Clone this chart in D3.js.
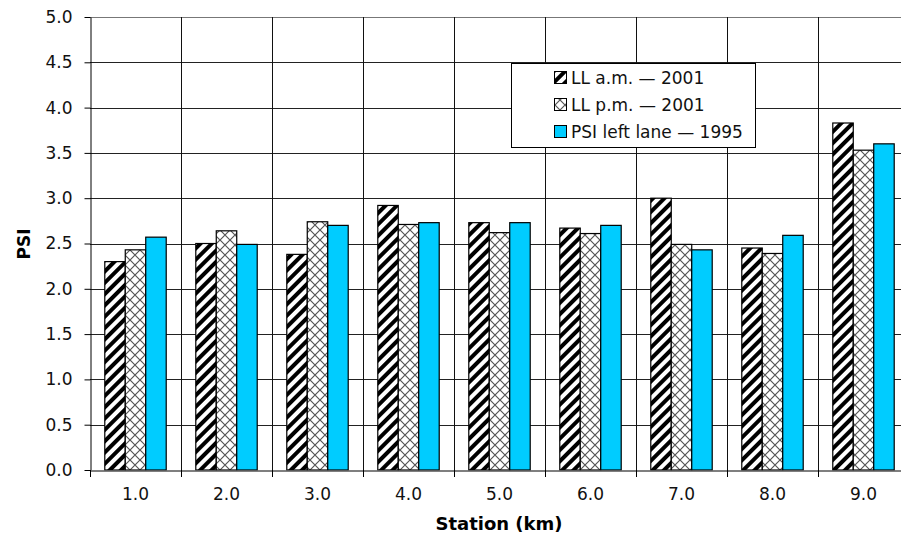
<!DOCTYPE html>
<html><head><meta charset="utf-8">
<script src="https://cdn.jsdelivr.net/npm/d3@7"></script>
<style>body{margin:0;background:#fff}svg{display:block;font-family:"DejaVu Sans",sans-serif}</style>
</head><body><svg id="c" width="901" height="537"></svg>
<script>
const stations = ["1.0","2.0","3.0","4.0","5.0","6.0","7.0","8.0","9.0"];
const llAm2001 = [2.30,2.50,2.38,2.92,2.73,2.67,3.00,2.45,3.83];
const llPm2001 = [2.43,2.64,2.74,2.71,2.62,2.61,2.49,2.39,3.53];
const psiLeft1995 = [2.57,2.49,2.70,2.73,2.73,2.70,2.43,2.59,3.60];
const seriesNames = ["LL a.m. \u2014 2001","LL p.m. \u2014 2001","PSI left lane \u2014 1995"];
const yTicks = [0,0.5,1,1.5,2,2.5,3,3.5,4,4.5,5];

const FONT = "DejaVu Sans, sans-serif";
const svg = d3.select("#c");
const m = {l:90, t:17, r:909, b:470};
const x = d3.scaleBand().domain(stations).range([m.l, m.r]).paddingInner(0).paddingOuter(0);
const y = d3.scaleLinear().domain([0,5]).range([m.b, m.t]);
const series = [llAm2001, llPm2001, psiLeft1995];
const xs = d3.scaleBand().domain([0,1,2]).range([0, x.bandwidth()*0.675]);
const off = x.bandwidth()*0.1625;

const defs = svg.append("defs");
const p1 = defs.append("pattern").attr("id","diag").attr("patternUnits","userSpaceOnUse")
  .attr("width",8).attr("height",8).attr("patternTransform","rotate(45)");
p1.append("rect").attr("width",8).attr("height",8).attr("fill","#fff");
p1.append("rect").attr("x",0).attr("width",4).attr("height",8).attr("fill","#000");
const p2 = defs.append("pattern").attr("id","cross").attr("patternUnits","userSpaceOnUse")
  .attr("width",10).attr("height",10);
p2.append("rect").attr("width",10).attr("height",10).attr("fill","#fff");
p2.append("path").attr("d","M0,0L10,10M10,0L0,10").attr("stroke","#555").attr("stroke-width",1.2);
const fills = ["url(#diag)","url(#cross)","#00ccff"];

// grid
svg.append("g").selectAll("line").data(yTicks.slice(1)).join("line")
  .attr("x1",m.l).attr("x2",m.r).attr("y1",d=>Math.round(y(d))+0.5).attr("y2",d=>Math.round(y(d))+0.5)
  .attr("stroke",d=>d===5?"#777":"#222").attr("stroke-width",1);
svg.append("g").selectAll("line").data(stations.slice(1)).join("line")
  .attr("x1",d=>Math.round(x(d))+0.5).attr("x2",d=>Math.round(x(d))+0.5)
  .attr("y1",m.t).attr("y2",m.b).attr("stroke","#111").attr("stroke-width",1);

// bars
series.forEach((vals,si)=>{
  svg.append("g").selectAll("rect").data(stations).join("rect")
    .attr("x",(d)=>x(d)+off+xs(si))
    .attr("width",xs.bandwidth())
    .attr("y",(d,i)=>y(vals[i]))
    .attr("height",(d,i)=>y(0)-y(vals[i]))
    .attr("fill",fills[si]).attr("stroke","#000").attr("stroke-width",1.2);
});

// axes
const ya = svg.append("g").attr("transform",`translate(${m.l+0.5},0)`)
  .call(d3.axisLeft(y).tickValues(yTicks).tickFormat(d3.format(".1f")).tickSize(6).tickSizeOuter(0));
ya.attr("font-family",FONT).attr("font-size",17);
ya.selectAll("text").attr("fill","#111").attr("x",-18);
ya.select(".domain").attr("stroke","#000");
const xa = svg.append("g").attr("transform",`translate(0,${m.b+0.5})`)
  .call(d3.axisBottom(x).tickSize(0).tickSizeOuter(0));
xa.attr("font-family",FONT).attr("font-size",17);
xa.selectAll("text").attr("fill","#111").attr("y",17);
xa.select(".domain").attr("stroke","#555").attr("stroke-width",1.5);
svg.append("g").selectAll("line").data(stations).join("line")
  .attr("x1",d=>Math.round(x(d))+0.5).attr("x2",d=>Math.round(x(d))+0.5)
  .attr("y1",m.b).attr("y2",m.b+7).attr("stroke","#000");

svg.append("text").attr("x",499).attr("y",530).attr("text-anchor","middle")
  .attr("font-size",18).attr("font-weight","bold").text("Station (km)");
svg.append("text").attr("transform","translate(30,244) rotate(-90)").attr("text-anchor","middle")
  .attr("font-size",17).attr("font-weight","bold").text("PSI");

// legend
const lg = svg.append("g");
const box = lg.append("rect").attr("x",511.5).attr("y",63.5).attr("height",84)
  .attr("fill","#fff").attr("stroke","#000").attr("stroke-width",1);
let maxR = 0;
seriesNames.forEach((n,i)=>{
  const cy = 77.5 + i*27;
  lg.append("rect").attr("x",554.5).attr("y",cy-6).attr("width",12).attr("height",12)
    .attr("fill",fills[i]).attr("stroke","#000").attr("stroke-width",1);
  const t = lg.append("text").attr("x",571).attr("y",cy+6).attr("font-size",17).attr("fill","#111").text(n);
  const bb = t.node().getBBox();
  maxR = Math.max(maxR, bb.x+bb.width);
});
box.attr("width", Math.round(maxR + 12) - 511);
</script></body></html>
